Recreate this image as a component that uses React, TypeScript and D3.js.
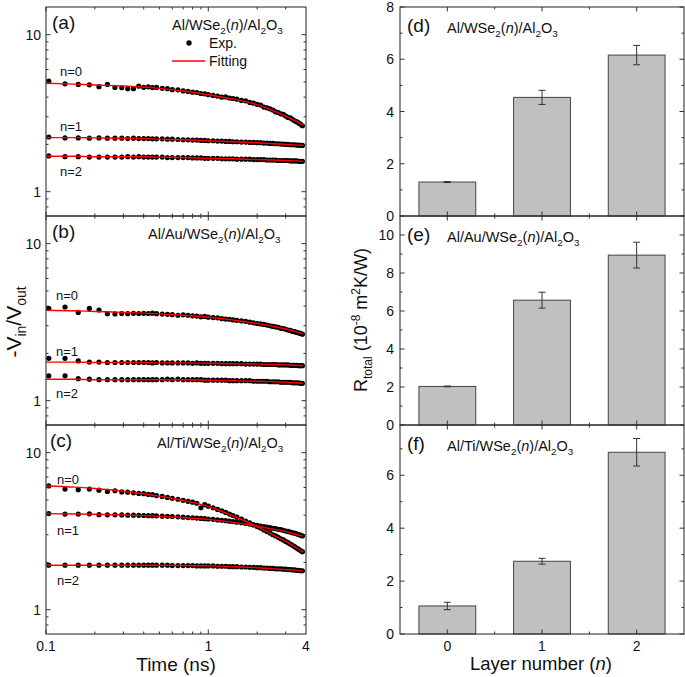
import React from "react";
import * as d3 from "d3";

// ---------- data ----------
const TIMES = [
  0.104, 0.131, 0.158, 0.185, 0.212, 0.239, 0.266, 0.293, 0.319, 0.346, 0.373, 0.400, 0.427, 0.453,
  0.480, 0.520, 0.560, 0.600, 0.650, 0.700, 0.750, 0.800, 0.850, 0.900, 0.950, 1.000, 1.070, 1.140,
  1.210, 1.280, 1.350, 1.420, 1.500, 1.600, 1.700, 1.800, 1.900, 2.000, 2.100, 2.200, 2.300, 2.400,
  2.500, 2.600, 2.700, 2.800, 2.900, 3.000, 3.100, 3.200, 3.300, 3.400, 3.500, 3.600, 3.700, 3.800,
];

const A0 = [
  5.06, 4.86, 4.82, 4.79, 4.66, 4.82, 4.61, 4.59, 4.53, 4.53, 4.70, 4.62, 4.65, 4.60,
  4.61, 4.55, 4.53, 4.46, 4.45, 4.38, 4.35, 4.30, 4.28, 4.22, 4.20, 4.15, 4.10, 4.06,
  4.00, 4.01, 3.95, 3.92, 3.88, 3.81, 3.79, 3.70, 3.66, 3.60, 3.56, 3.46, 3.42, 3.37,
  3.31, 3.22, 3.19, 3.13, 3.11, 3.03, 2.97, 2.95, 2.89, 2.83, 2.79, 2.74, 2.69, 2.63,
];
const A1 = [
  2.23, 2.20, 2.20, 2.19, 2.20, 2.19, 2.19, 2.19, 2.18, 2.19, 2.18, 2.18, 2.18, 2.17,
  2.17, 2.17, 2.16, 2.16, 2.15, 2.14, 2.14, 2.13, 2.13, 2.12, 2.12, 2.11, 2.11, 2.10,
  2.10, 2.09, 2.09, 2.08, 2.08, 2.07, 2.07, 2.06, 2.06, 2.05, 2.05, 2.04, 2.04, 2.03,
  2.03, 2.02, 2.02, 2.01, 2.01, 2.00, 2.00, 1.99, 1.99, 1.99, 1.98, 1.98, 1.97, 1.97,
];
const A2 = [
  1.69, 1.67, 1.67, 1.66, 1.66, 1.66, 1.66, 1.66, 1.67, 1.66, 1.67, 1.66, 1.66, 1.66,
  1.66, 1.66, 1.65, 1.65, 1.65, 1.65, 1.65, 1.64, 1.64, 1.64, 1.63, 1.63, 1.63, 1.63,
  1.62, 1.62, 1.62, 1.62, 1.61, 1.61, 1.61, 1.61, 1.60, 1.60, 1.60, 1.60, 1.59, 1.59,
  1.59, 1.59, 1.58, 1.58, 1.58, 1.58, 1.58, 1.57, 1.57, 1.57, 1.57, 1.56, 1.56, 1.56,
];
const B0 = [
  3.87, 3.95, 3.65, 3.87, 3.78, 3.58, 3.57, 3.59, 3.58, 3.60, 3.59, 3.60, 3.59, 3.61,
  3.58, 3.56, 3.55, 3.53, 3.50, 3.52, 3.50, 3.47, 3.46, 3.42, 3.44, 3.40, 3.38, 3.37,
  3.33, 3.31, 3.30, 3.27, 3.25, 3.22, 3.20, 3.16, 3.13, 3.10, 3.08, 3.06, 3.03, 3.00,
  2.97, 2.95, 2.93, 2.89, 2.88, 2.85, 2.82, 2.80, 2.76, 2.75, 2.72, 2.70, 2.68, 2.65,
];
const B1 = [
  1.86, 1.86, 1.79, 1.76, 1.76, 1.75, 1.75, 1.75, 1.75, 1.75, 1.75, 1.75, 1.75, 1.74,
  1.75, 1.74, 1.74, 1.74, 1.74, 1.74, 1.74, 1.73, 1.74, 1.73, 1.73, 1.73, 1.73, 1.73,
  1.72, 1.72, 1.72, 1.72, 1.72, 1.72, 1.71, 1.71, 1.71, 1.71, 1.71, 1.70, 1.70, 1.70,
  1.70, 1.70, 1.69, 1.69, 1.69, 1.69, 1.69, 1.68, 1.68, 1.68, 1.68, 1.67, 1.67, 1.67,
];
const B2 = [
  1.44, 1.44, 1.38, 1.37, 1.36, 1.36, 1.36, 1.36, 1.36, 1.36, 1.36, 1.36, 1.36, 1.36,
  1.36, 1.36, 1.37, 1.36, 1.37, 1.36, 1.36, 1.36, 1.36, 1.36, 1.35, 1.35, 1.35, 1.35,
  1.35, 1.35, 1.34, 1.34, 1.34, 1.34, 1.34, 1.34, 1.33, 1.33, 1.33, 1.33, 1.33, 1.32,
  1.32, 1.32, 1.32, 1.31, 1.31, 1.31, 1.31, 1.31, 1.30, 1.30, 1.30, 1.30, 1.29, 1.29,
];
const C0 = [
  6.14, 5.86, 5.81, 5.86, 5.77, 5.66, 5.72, 5.62, 5.60, 5.55, 5.50, 5.48, 5.42, 5.40,
  5.33, 5.26, 5.19, 5.12, 5.05, 4.97, 4.90, 4.84, 4.76, 4.45, 4.66, 4.56, 4.45, 4.35,
  4.26, 4.16, 4.06, 3.98, 3.88, 3.78, 3.66, 3.57, 3.47, 3.38, 3.31, 3.22, 3.15, 3.08,
  3.00, 2.95, 2.89, 2.83, 2.78, 2.72, 2.67, 2.62, 2.57, 2.52, 2.47, 2.43, 2.38, 2.34,
];
const C1 = [
  4.09, 4.06, 4.06, 4.08, 4.03, 4.02, 4.02, 4.01, 4.00, 4.00, 3.99, 3.98, 3.97, 3.97,
  3.96, 3.94, 3.93, 3.92, 3.90, 3.88, 3.86, 3.85, 3.83, 3.81, 3.80, 3.78, 3.76, 3.73,
  3.71, 3.69, 3.66, 3.64, 3.61, 3.58, 3.54, 3.51, 3.47, 3.44, 3.41, 3.38, 3.36, 3.33,
  3.30, 3.28, 3.25, 3.23, 3.20, 3.17, 3.15, 3.12, 3.09, 3.07, 3.04, 3.01, 2.98, 2.95,
];
const C2 = [
  1.92, 1.92, 1.92, 1.92, 1.92, 1.92, 1.92, 1.92, 1.92, 1.92, 1.92, 1.92, 1.92, 1.92,
  1.92, 1.92, 1.92, 1.91, 1.91, 1.91, 1.91, 1.91, 1.90, 1.90, 1.90, 1.90, 1.90, 1.89,
  1.89, 1.89, 1.88, 1.88, 1.88, 1.87, 1.87, 1.86, 1.86, 1.85, 1.85, 1.84, 1.84, 1.83,
  1.83, 1.82, 1.82, 1.82, 1.81, 1.81, 1.80, 1.80, 1.79, 1.79, 1.78, 1.78, 1.77, 1.77,
];

const FIT_T = [0.1, 0.15, 0.2, 0.3, 0.4, 0.5, 0.7, 1.0, 1.4, 2.0, 2.5, 3.0, 3.5, 3.82];
const FA0 = [4.90, 4.84, 4.78, 4.71, 4.64, 4.55, 4.38, 4.14, 3.90, 3.58, 3.28, 3.02, 2.80, 2.65];
const FA1 = [2.21, 2.21, 2.20, 2.19, 2.18, 2.16, 2.14, 2.11, 2.08, 2.05, 2.02, 2.00, 1.98, 1.97];
const FA2 = [1.68, 1.68, 1.67, 1.67, 1.67, 1.66, 1.65, 1.63, 1.62, 1.60, 1.59, 1.58, 1.57, 1.56];
const FB0 = [3.77, 3.74, 3.70, 3.65, 3.61, 3.57, 3.50, 3.40, 3.27, 3.10, 2.98, 2.86, 2.74, 2.66];
const FB1 = [1.76, 1.76, 1.75, 1.75, 1.75, 1.74, 1.74, 1.73, 1.72, 1.71, 1.70, 1.69, 1.68, 1.67];
const FB2 = [1.37, 1.37, 1.36, 1.36, 1.36, 1.36, 1.36, 1.35, 1.34, 1.33, 1.32, 1.31, 1.30, 1.29];
const FC0 = [6.16, 6.03, 5.91, 5.68, 5.46, 5.28, 4.96, 4.54, 3.98, 3.38, 3.00, 2.72, 2.47, 2.33];
const FC1 = [4.09, 4.07, 4.05, 4.01, 3.97, 3.93, 3.86, 3.76, 3.61, 3.40, 3.26, 3.14, 3.01, 2.94];
const FC2 = [1.92, 1.92, 1.92, 1.92, 1.92, 1.92, 1.91, 1.90, 1.88, 1.85, 1.82, 1.80, 1.78, 1.76];

const X_TICK_LABELS = ["0.1", "1", "4"];
const X_TICK_VALUES = [0.1, 1, 4];
const Y_LOG_MAJOR = [1, 10];
const Y_LOG_MINOR = [0.8, 0.9, 2, 3, 4, 5, 6, 7, 8, 9];
const X_LOG_MINOR = [0.2, 0.3, 0.4, 0.5, 0.6, 0.7, 0.8, 0.9, 2, 3];

const LAYERS = [0, 1, 2];
const D_VAL = [1.30, 4.54, 6.16];
const D_ERR = [0.02, 0.27, 0.37];
const E_VAL = [2.03, 6.57, 8.94];
const E_ERR = [0.02, 0.42, 0.68];
const F_VAL = [1.06, 2.75, 6.87];
const F_ERR = [0.14, 0.11, 0.52];

// ---------- layout ----------
const FONT = "'Liberation Sans', Arial, sans-serif";
const AX = "#333";
const PH = 209;
const TOPS = [7, 216, 425];
const LX0 = 46, LX1 = 306;
const RX0 = 400, RX1 = 684;
const TITLE_SIZE = 14.5;

const xLog = d3.scaleLog().domain([0.1, 4]).range([LX0, LX1]);
const xBar = d3.scaleLinear().domain([-0.5, 2.5]).range([RX0, RX1]);

function Formula({ x, y, prefix, size }: { x: number; y: number; prefix: string; size: number }) {
  const s = size * 0.68;
  const dy = size * 0.28;
  return (
    <text x={x} y={y} fontSize={size} fontFamily={FONT} fill="#111">
      {prefix}WSe
      <tspan fontSize={s} dy={dy}>2</tspan>
      <tspan dy={-dy}>(</tspan>
      <tspan fontStyle="italic">n</tspan>
      <tspan>)/Al</tspan>
      <tspan fontSize={s} dy={dy}>2</tspan>
      <tspan dy={-dy}>O</tspan>
      <tspan fontSize={s} dy={dy}>3</tspan>
    </text>
  );
}

type LogPanelProps = {
  top: number;
  letter: string;
  letterX: number;
  prefix: string;
  titleX: number;
  data: number[][];
  fits: number[][];
  nPos: { x: number; ys: number[] };
  bottom: boolean;
  legend?: boolean;
};

function LogPanel(p: LogPanelProps) {
  const y = d3.scaleLog().domain([0.7, 15]).range([p.top + PH, p.top]);
  const bot = p.top + PH;
  const line = d3
    .line<[number, number]>()
    .x((d) => xLog(d[0]))
    .y((d) => y(d[1]))
    .curve(d3.curveMonotoneX);
  return (
    <g>
      {p.data.map((ser, si) => (
        <g key={"d" + si}>
          {TIMES.map((t, i) => (
            <circle key={i} cx={xLog(t)} cy={y(ser[i])} r={2.6} fill="#000" />
          ))}
        </g>
      ))}
      {p.fits.map((f, si) => (
        <path
          key={"f" + si}
          d={line(FIT_T.map((t, i) => [t, f[i]] as [number, number])) || ""}
          fill="none"
          stroke="#ff0000"
          strokeWidth={1.4}
        />
      ))}
      <rect x={LX0} y={p.top} width={LX1 - LX0} height={PH} fill="none" stroke={AX} strokeWidth={1.1} />
      {Y_LOG_MAJOR.map((v) => (
        <g key={"ym" + v}>
          <line x1={LX0} x2={LX0 + 4.5} y1={y(v)} y2={y(v)} stroke={AX} />
          <line x1={LX1} x2={LX1 - 4.5} y1={y(v)} y2={y(v)} stroke={AX} />
          <text x={LX0 - 5} y={y(v) + 5} textAnchor="end" fontSize={14} fontFamily={FONT} fill="#111">
            {v}
          </text>
        </g>
      ))}
      {Y_LOG_MINOR.map((v) => (
        <g key={"yn" + v}>
          <line x1={LX0} x2={LX0 + 2.5} y1={y(v)} y2={y(v)} stroke={AX} />
          <line x1={LX1} x2={LX1 - 2.5} y1={y(v)} y2={y(v)} stroke={AX} />
        </g>
      ))}
      {[0.1, 1].map((v) => (
        <g key={"xm" + v}>
          <line x1={xLog(v)} x2={xLog(v)} y1={bot} y2={bot - 4.5} stroke={AX} />
          <line x1={xLog(v)} x2={xLog(v)} y1={p.top} y2={p.top + 4.5} stroke={AX} />
        </g>
      ))}
      {X_LOG_MINOR.map((v) => (
        <g key={"xn" + v}>
          <line x1={xLog(v)} x2={xLog(v)} y1={bot} y2={bot - 2.5} stroke={AX} />
          <line x1={xLog(v)} x2={xLog(v)} y1={p.top} y2={p.top + 2.5} stroke={AX} />
        </g>
      ))}
      {p.bottom &&
        X_TICK_VALUES.map((v, i) => (
          <text key={"xl" + v} x={xLog(v)} y={bot + 17} textAnchor="middle" fontSize={14} fontFamily={FONT} fill="#111">
            {X_TICK_LABELS[i]}
          </text>
        ))}
      <text x={p.letterX} y={p.top + 22} fontSize={19} fontFamily={FONT} fill="#111">
        {p.letter}
      </text>
      <Formula x={p.titleX} y={p.top + 23} prefix={p.prefix} size={TITLE_SIZE} />
      {["n=0", "n=1", "n=2"].map((s, i) => (
        <text key={s} x={p.nPos.x} y={p.nPos.ys[i]} fontSize={13} fontFamily={FONT} fill="#111">
          {s}
        </text>
      ))}
      {p.legend && (
        <g>
          <circle cx={189} cy={p.top + 36} r={2.7} fill="#000" />
          <text x={209} y={p.top + 41} fontSize={14} fontFamily={FONT} fill="#111">
            Exp.
          </text>
          <line x1={172} x2={205} y1={p.top + 54} y2={p.top + 54} stroke="#ff0000" strokeWidth={1.5} />
          <text x={209} y={p.top + 59} fontSize={14} fontFamily={FONT} fill="#111">
            Fitting
          </text>
        </g>
      )}
    </g>
  );
}

type BarPanelProps = {
  top: number;
  ymax: number;
  letter: string;
  prefix: string;
  vals: number[];
  errs: number[];
  majors: number[];
  minors: number[];
  bottom: boolean;
};

function BarPanel(p: BarPanelProps) {
  const y = d3.scaleLinear().domain([0, p.ymax]).range([p.top + PH, p.top]);
  const bot = p.top + PH;
  const bw = xBar(0.3) - xBar(0);
  return (
    <g>
      {LAYERS.map((l, i) => (
        <g key={l}>
          <rect
            x={xBar(l) - bw}
            y={y(p.vals[i])}
            width={bw * 2}
            height={bot - y(p.vals[i])}
            fill="#c0c0c0"
            stroke="#444"
            strokeWidth={1}
          />
          <line x1={xBar(l)} x2={xBar(l)} y1={y(p.vals[i] + p.errs[i])} y2={y(p.vals[i] - p.errs[i])} stroke="#333" strokeWidth={1} />
          <line x1={xBar(l) - 3.5} x2={xBar(l) + 3.5} y1={y(p.vals[i] + p.errs[i])} y2={y(p.vals[i] + p.errs[i])} stroke="#333" strokeWidth={1} />
          <line x1={xBar(l) - 3.5} x2={xBar(l) + 3.5} y1={y(p.vals[i] - p.errs[i])} y2={y(p.vals[i] - p.errs[i])} stroke="#333" strokeWidth={1} />
        </g>
      ))}
      <rect x={RX0} y={p.top} width={RX1 - RX0} height={PH} fill="none" stroke={AX} strokeWidth={1.1} />
      {p.majors.map((v) => (
        <g key={"m" + v}>
          <line x1={RX0} x2={RX0 + 4.5} y1={y(v)} y2={y(v)} stroke={AX} />
          <line x1={RX1} x2={RX1 - 4.5} y1={y(v)} y2={y(v)} stroke={AX} />
          <text x={RX0 - 6} y={y(v) + 5} textAnchor="end" fontSize={14} fontFamily={FONT} fill="#111">
            {v}
          </text>
        </g>
      ))}
      {p.minors.map((v) => (
        <g key={"n" + v}>
          <line x1={RX0} x2={RX0 + 2.5} y1={y(v)} y2={y(v)} stroke={AX} />
          <line x1={RX1} x2={RX1 - 2.5} y1={y(v)} y2={y(v)} stroke={AX} />
        </g>
      ))}
      {LAYERS.map((l) => (
        <g key={"x" + l}>
          <line x1={xBar(l)} x2={xBar(l)} y1={bot} y2={bot - 4.5} stroke={AX} />
          <line x1={xBar(l)} x2={xBar(l)} y1={p.top} y2={p.top + 4.5} stroke={AX} />
        </g>
      ))}
      {[0.5, 1.5].map((v) => (
        <g key={"xn" + v}>
          <line x1={xBar(v)} x2={xBar(v)} y1={bot} y2={bot - 2.5} stroke={AX} />
          <line x1={xBar(v)} x2={xBar(v)} y1={p.top} y2={p.top + 2.5} stroke={AX} />
        </g>
      ))}
      {p.bottom &&
        LAYERS.map((l) => (
          <text key={"xl" + l} x={xBar(l)} y={bot + 17} textAnchor="middle" fontSize={14} fontFamily={FONT} fill="#111">
            {l}
          </text>
        ))}
      <text x={407} y={p.top + 25} fontSize={19} fontFamily={FONT} fill="#111">
        {p.letter}
      </text>
      <Formula x={447} y={p.top + 26} prefix={p.prefix} size={TITLE_SIZE} />
    </g>
  );
}

export default function App() {
  return (
    <svg width={685} height={677} style={{ display: "block", position: "absolute", left: 0, top: 0, background: "#fff" }}>
      <rect width={685} height={677} fill="#fff" />
      <LogPanel
        top={TOPS[0]}
        letter="(a)"
        letterX={52}
        prefix="Al/"
        titleX={172}
        data={[A0, A1, A2]}
        fits={[FA0, FA1, FA2]}
        nPos={{ x: 60, ys: [76, 131, 176] }}
        bottom={false}
        legend
      />
      <LogPanel
        top={TOPS[1]}
        letter="(b)"
        letterX={52}
        prefix="Al/Au/"
        titleX={148}
        data={[B0, B1, B2]}
        fits={[FB0, FB1, FB2]}
        nPos={{ x: 56, ys: [300, 356, 398] }}
        bottom={false}
      />
      <LogPanel
        top={TOPS[2]}
        letter="(c)"
        letterX={50}
        prefix="Al/Ti/"
        titleX={157}
        data={[C0, C1, C2]}
        fits={[FC0, FC1, FC2]}
        nPos={{ x: 57, ys: [484, 535, 585] }}
        bottom={true}
      />
      <BarPanel top={TOPS[0]} ymax={8} letter="(d)" prefix="Al/" vals={D_VAL} errs={D_ERR} majors={[0, 2, 4, 6, 8]} minors={[1, 3, 5, 7]} bottom={false} />
      <BarPanel top={TOPS[1]} ymax={11} letter="(e)" prefix="Al/Au/" vals={E_VAL} errs={E_ERR} majors={[0, 2, 4, 6, 8, 10]} minors={[1, 3, 5, 7, 9]} bottom={false} />
      <BarPanel top={TOPS[2]} ymax={7.9} letter="(f)" prefix="Al/Ti/" vals={F_VAL} errs={F_ERR} majors={[0, 2, 4, 6]} minors={[1, 3, 5, 7]} bottom={true} />

      <text x={176} y={671} textAnchor="middle" fontSize={19} fontFamily={FONT} fill="#111">
        Time (ns)
      </text>
      <text x={541} y={670} textAnchor="middle" fontSize={18.5} fontFamily={FONT} fill="#111">
        Layer number (<tspan fontStyle="italic">n</tspan>)
      </text>
      <text transform="translate(21,322) rotate(-90)" textAnchor="middle" fontSize={21} fontFamily={FONT} fill="#111">
        -V<tspan fontSize={14} dy={5}>in</tspan>
        <tspan dy={-5}>/V</tspan>
        <tspan fontSize={14} dy={5}>out</tspan>
      </text>
      <text transform="translate(367,320) rotate(-90)" textAnchor="middle" fontSize={18} fontFamily={FONT} fill="#111">
        R<tspan fontSize={12} dy={5}>total</tspan>
        <tspan dy={-5}> (10</tspan>
        <tspan fontSize={12} dy={-7}>-8</tspan>
        <tspan dy={7}> m</tspan>
        <tspan fontSize={12} dy={-7}>2</tspan>
        <tspan dy={7}>K/W)</tspan>
      </text>
    </svg>
  );
}
